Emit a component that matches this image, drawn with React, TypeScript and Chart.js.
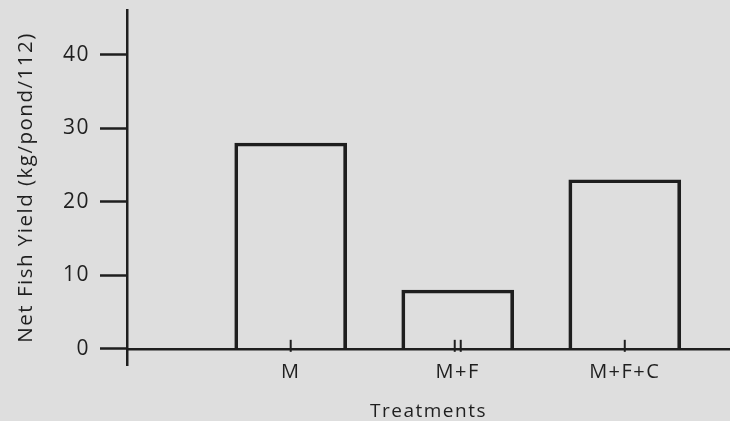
import React, { useEffect, useRef } from "react";
import { Chart, registerables } from "chart.js";

Chart.register(...registerables);

const categories = ["M", "M+F", "M+F+C"];
const yieldValues = [28, 8, 23];
const categoryPositions = [1, 2, 3];
const tickMarkCounts = [1, 2, 1];
const yTickValues = [0, 10, 20, 30, 40];
const yAxisTitle = "Net Fish Yield (kg/pond/112)";
const xAxisTitle = "Treatments";

const INK = "#1e1e1e";
const TEXT = "#1f1f1f";
const PAPER = "#dedede";
const FONT = "'Open Sans', sans-serif";

export default function App() {
  const ref = useRef<HTMLCanvasElement>(null);

  useEffect(() => {
    if (!ref.current) return;

    const spacing = {
      id: "spacing",
      beforeLayout(chart: any) {
        chart.ctx.letterSpacing = "1.5px";
      },
      beforeDraw(chart: any) {
        chart.ctx.letterSpacing = "1.5px";
      },
    };

    const xMarks = {
      id: "xMarks",
      afterDraw(chart: any) {
        const xs = chart.scales.x;
        const ys = chart.scales.y;
        const y0 = ys.getPixelForValue(0);
        const ctx = chart.ctx;
        ctx.save();
        ctx.strokeStyle = INK;
        ctx.lineWidth = 2;
        categoryPositions.forEach((v, i) => {
          const cx = xs.getPixelForValue(v);
          const n = tickMarkCounts[i];
          for (let k = 0; k < n; k++) {
            const x = cx + (k - (n - 1) / 2) * 6;
            ctx.beginPath();
            ctx.moveTo(x, y0 - 9);
            ctx.lineTo(x, y0 + 3);
            ctx.stroke();
          }
        });
        ctx.restore();
      },
    };

    const chart = new Chart(ref.current, {
      type: "bar",
      data: {
        datasets: [
          {
            data: categoryPositions.map((x, i) => ({ x, y: yieldValues[i] })),
            backgroundColor: "rgba(0,0,0,0)",
            borderColor: INK,
            borderWidth: 3,
            barThickness: 112,
          },
        ],
      },
      options: {
        animation: false,
        responsive: false,
        maintainAspectRatio: false,
        layout: { padding: { top: 10, right: 0, bottom: 56, left: 0 } },
        plugins: {
          legend: { display: false },
          tooltip: { enabled: false },
        },
        scales: {
          x: {
            type: "linear",
            offset: false,
            position: { y: 0 } as any,
            min: 0.02,
            max: 3.63,
            afterBuildTicks: (axis: any) => {
              axis.ticks = categoryPositions.map((v) => ({ value: v }));
            },
            ticks: {
              callback: (v: any) => {
                const i = categoryPositions.indexOf(Number(v));
                return i >= 0 ? categories[i] : "";
              },
              font: { family: FONT, size: 20 },
              color: TEXT,
              padding: 11,
              autoSkip: false,
              maxRotation: 0,
            },
            grid: { drawOnChartArea: false, drawTicks: false, color: INK },
            border: { color: INK, width: 2.5 },
            title: {
              display: true,
              text: xAxisTitle,
              font: { family: FONT, size: 19 },
              color: TEXT,
              padding: { top: 5, bottom: 0 },
            },
          },
          y: {
            min: -2.2,
            max: 46.1,
            afterBuildTicks: (axis: any) => {
              axis.ticks = yTickValues.map((v) => ({ value: v }));
            },
            afterFit: (s: any) => {
              s.width = 127;
              s.paddingTop = 0;
            },
            ticks: {
              font: { family: FONT, size: 21 },
              color: TEXT,
              padding: 10,
            },
            grid: {
              drawOnChartArea: false,
              tickLength: 27,
              tickColor: INK,
              tickWidth: 2.5,
              color: INK,
            },
            border: { color: INK, width: 2.5 },
            title: {
              display: true,
              text: yAxisTitle,
              font: { family: FONT, size: 20.5 },
              color: TEXT,
              padding: { top: 14, bottom: 0 },
            },
          },
        },
      } as any,
      plugins: [spacing, xMarks],
    });

    return () => chart.destroy();
  }, []);

  return (
    <div
      style={{
        position: "fixed",
        left: 0,
        top: 0,
        width: 730,
        height: 421,
        background: PAPER,
      }}
    >
      <canvas ref={ref} width={730} height={421} style={{ display: "block" }} />
    </div>
  );
}
